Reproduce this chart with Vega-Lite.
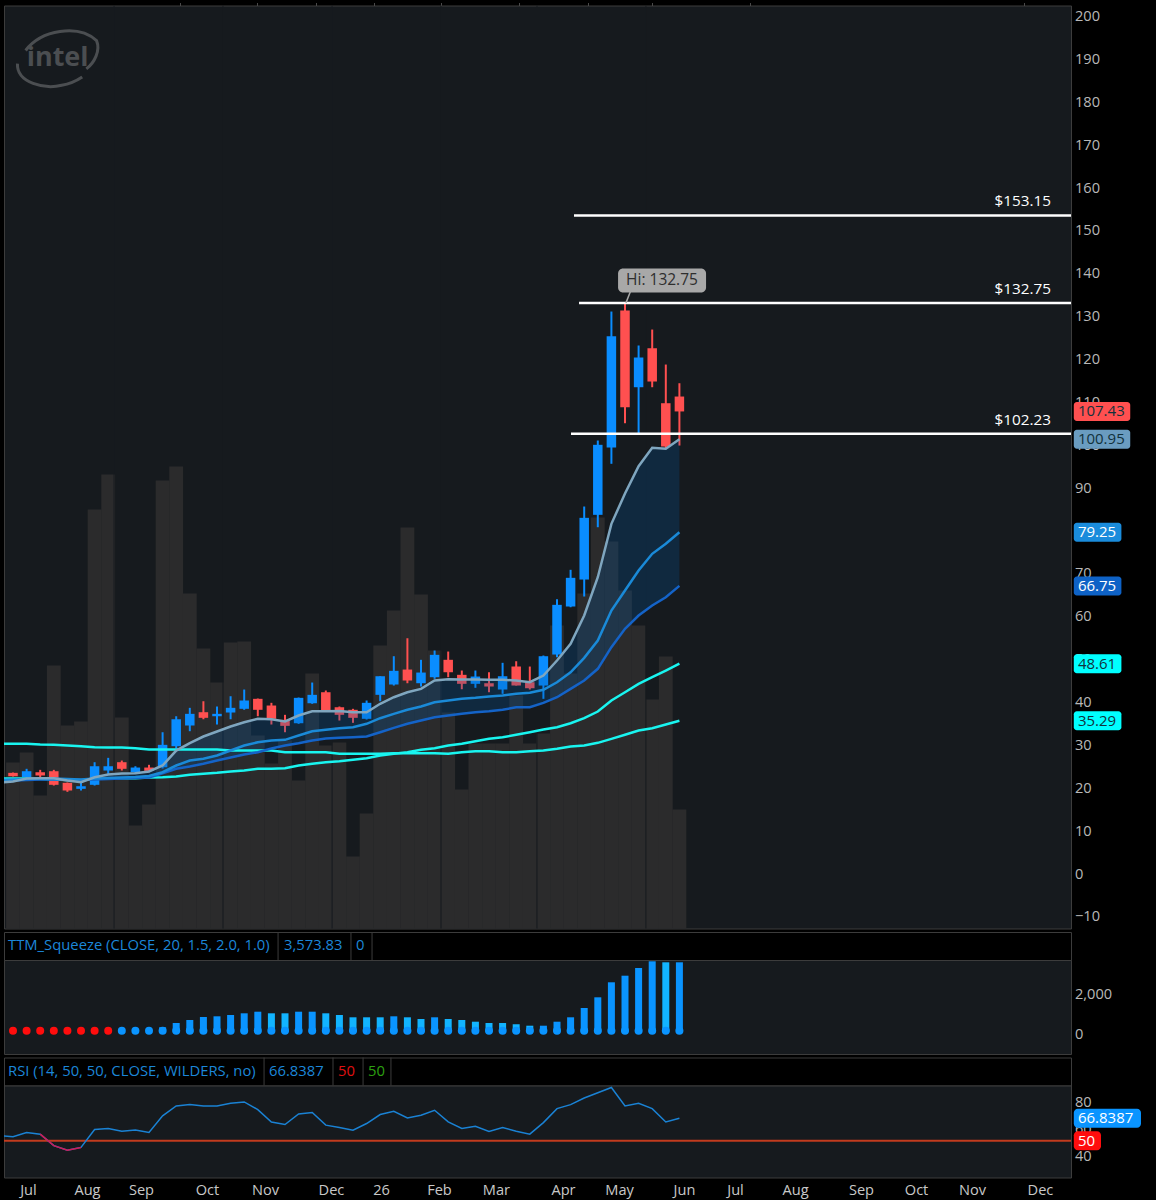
{
  "$schema": "https://vega.github.io/schema/vega-lite/v6.json",
  "background": "#000000",
  "padding": {"left": 2, "top": 1.5, "right": 17, "bottom": 2},
  "config": {
    "font": "Open Sans",
    "axis": {"grid": false, "domain": false, "ticks": false, "labelFont": "Open Sans", "labelFontSize": 14.6, "labelColor": "#b8b8b8", "labelOverlap": false, "labelBound": false, "labelFlush": false}
  },
  "datasets": {
    "bars": [
      {"week": -1, "ema8": 20.9, "ema21": 21.5, "ema34": 21.3, "ema50": 21.8, "ema200": 29.95, "rsi": 53.8},
      {"week": 0, "open": 23.15, "high": 23.22, "low": 22.29, "close": 22.36, "ema8": 21.13, "ema21": 21.59, "ema34": 21.36, "ema50": 21.83, "ema200": 29.92, "volume": 166, "squeeze": 0, "trend": "up", "rsi": 52.95},
      {"week": 1, "open": 22.13, "high": 24.09, "low": 22.13, "close": 23.53, "ema8": 21.83, "ema21": 21.71, "ema34": 21.47, "ema50": 21.83, "ema200": 29.92, "volume": 176, "squeeze": 0, "trend": "up", "rsi": 56.15},
      {"week": 2, "open": 23.29, "high": 23.85, "low": 22.13, "close": 22.53, "ema8": 21.89, "ema21": 21.83, "ema34": 21.59, "ema50": 21.71, "ema200": 29.75, "volume": 133, "squeeze": 0, "trend": "up", "rsi": 54.95, "rsi_low": 54.95},
      {"week": 3, "open": 23.53, "high": 23.85, "low": 20.19, "close": 20.36, "ema8": 21.89, "ema21": 21.83, "ema34": 21.59, "ema50": 21.59, "ema200": 29.68, "volume": 263, "squeeze": 0, "trend": "up", "rsi": 46.35, "rsi_low": 46.35},
      {"week": 4, "open": 20.82, "high": 20.89, "low": 18.72, "close": 19.03, "ema8": 21.36, "ema21": 21.71, "ema34": 21.59, "ema50": 21.47, "ema200": 29.52, "volume": 203, "squeeze": 0, "trend": "up", "rsi": 43.05, "rsi_low": 43.05},
      {"week": 5, "open": 19.42, "high": 20.96, "low": 19.03, "close": 20.03, "ema8": 20.96, "ema21": 21.59, "ema34": 21.47, "ema50": 21.36, "ema200": 29.36, "volume": 207, "squeeze": 0, "trend": "up", "rsi": 45.05, "rsi_low": 45.05},
      {"week": 6, "open": 20.36, "high": 25.63, "low": 20.19, "close": 24.69, "ema8": 22.13, "ema21": 21.83, "ema34": 21.59, "ema50": 21.83, "ema200": 29.12, "volume": 419, "squeeze": 0, "trend": "up", "rsi": 58.45},
      {"week": 7, "open": 23.69, "high": 26.65, "low": 22.76, "close": 24.69, "ema8": 22.76, "ema21": 21.94, "ema34": 21.71, "ema50": 21.89, "ema200": 29.05, "volume": 454, "squeeze": 0, "trend": "up", "rsi": 59.15},
      {"week": 8, "open": 25.63, "high": 26.02, "low": 23.69, "close": 24.09, "ema8": 22.99, "ema21": 22.06, "ema34": 21.83, "ema50": 21.89, "ema200": 29.05, "volume": 211, "squeeze": 0, "trend": "up", "rsi": 57.15},
      {"week": 9, "open": 23.29, "high": 24.69, "low": 22.99, "close": 24.39, "ema8": 23.06, "ema21": 22.17, "ema34": 21.94, "ema50": 21.89, "ema200": 28.89, "volume": 103, "squeeze": 0, "trend": "up", "rsi": 57.95},
      {"week": 10, "open": 24.39, "high": 25.02, "low": 23.29, "close": 23.62, "ema8": 23.46, "ema21": 22.41, "ema34": 22.06, "ema50": 22.06, "ema200": 28.59, "volume": 124, "squeeze": 0, "trend": "up", "rsi": 56.15},
      {"week": 11, "open": 24.46, "high": 32.62, "low": 24.16, "close": 29.68, "ema8": 24.86, "ema21": 23.29, "ema34": 23.06, "ema50": 22.13, "ema200": 28.59, "volume": 448, "squeeze": 241, "trend": "up", "rsi": 68.55},
      {"week": 12, "open": 29.36, "high": 36.35, "low": 28.82, "close": 35.65, "ema8": 28.35, "ema21": 24.86, "ema34": 24.09, "ema50": 22.29, "ema200": 28.59, "volume": 462, "squeeze": 462, "trend": "up", "rsi": 75.95},
      {"week": 13, "open": 34.19, "high": 38.31, "low": 32.86, "close": 36.91, "ema8": 30.06, "ema21": 26.02, "ema34": 24.62, "ema50": 22.69, "ema200": 28.59, "volume": 335, "squeeze": 615, "trend": "up", "rsi": 76.95},
      {"week": 14, "open": 37.29, "high": 39.85, "low": 35.65, "close": 35.98, "ema8": 31.62, "ema21": 26.42, "ema34": 25.25, "ema50": 22.92, "ema200": 28.59, "volume": 280, "squeeze": 769, "trend": "up", "rsi": 75.95},
      {"week": 15, "open": 36.35, "high": 38.62, "low": 34.42, "close": 36.91, "ema8": 32.79, "ema21": 27.19, "ema34": 26.02, "ema50": 23.15, "ema200": 28.59, "volume": 246, "squeeze": 805, "trend": "up", "rsi": 75.95},
      {"week": 16, "open": 37.22, "high": 41.02, "low": 35.65, "close": 38.31, "ema8": 33.95, "ema21": 28.35, "ema34": 26.72, "ema50": 23.46, "ema200": 28.35, "volume": 286, "squeeze": 872, "trend": "up", "rsi": 77.95},
      {"week": 17, "open": 38.08, "high": 42.58, "low": 37.85, "close": 40.02, "ema8": 34.95, "ema21": 29.52, "ema34": 27.42, "ema50": 23.69, "ema200": 28.35, "volume": 287, "squeeze": 959, "trend": "up", "rsi": 78.95},
      {"week": 18, "open": 40.41, "high": 40.48, "low": 36.35, "close": 37.85, "ema8": 35.75, "ema21": 30.29, "ema34": 27.96, "ema50": 24.09, "ema200": 28.35, "volume": 193, "squeeze": 1041, "trend": "up", "rsi": 73.25},
      {"week": 19, "open": 38.85, "high": 39.48, "low": 34.42, "close": 35.75, "ema8": 35.65, "ema21": 30.69, "ema34": 28.82, "ema50": 24.09, "ema200": 28.35, "volume": 165, "squeeze": 959, "trend": "down", "rsi": 64.05},
      {"week": 20, "open": 35.51, "high": 36.68, "low": 32.62, "close": 34.11, "ema8": 35.12, "ema21": 30.85, "ema34": 29.52, "ema50": 24.23, "ema200": 27.96, "volume": 188, "squeeze": 959, "trend": "down", "rsi": 62.15},
      {"week": 21, "open": 34.72, "high": 40.71, "low": 34.58, "close": 40.64, "ema8": 36.52, "ema21": 31.85, "ema34": 30.06, "ema50": 24.86, "ema200": 27.96, "volume": 148, "squeeze": 1041, "trend": "up", "rsi": 70.05},
      {"week": 22, "open": 39.38, "high": 44.21, "low": 39.25, "close": 41.34, "ema8": 37.52, "ema21": 32.86, "ema34": 30.69, "ema50": 25.25, "ema200": 27.96, "volume": 255, "squeeze": 1041, "trend": "up", "rsi": 71.05},
      {"week": 23, "open": 41.95, "high": 42.35, "low": 37.45, "close": 37.52, "ema8": 37.52, "ema21": 33.18, "ema34": 31.15, "ema50": 25.63, "ema200": 27.96, "volume": 183, "squeeze": 959, "trend": "down", "rsi": 61.65},
      {"week": 24, "open": 38.45, "high": 38.62, "low": 35.35, "close": 36.68, "ema8": 37.57, "ema21": 33.56, "ema34": 31.32, "ema50": 25.86, "ema200": 27.58, "volume": 186, "squeeze": 872, "trend": "down", "rsi": 59.85},
      {"week": 25, "open": 37.85, "high": 38.08, "low": 34.81, "close": 35.98, "ema8": 37.29, "ema21": 33.79, "ema34": 31.46, "ema50": 26.19, "ema200": 27.58, "volume": 72, "squeeze": 754, "trend": "down", "rsi": 57.95},
      {"week": 26, "open": 35.75, "high": 40.02, "low": 35.58, "close": 39.48, "ema8": 37.29, "ema21": 34.58, "ema34": 31.62, "ema50": 26.56, "ema200": 27.58, "volume": 115, "squeeze": 754, "trend": "down", "rsi": 62.85},
      {"week": 27, "open": 41.34, "high": 45.68, "low": 39.85, "close": 45.68, "ema8": 39.25, "ema21": 35.89, "ema34": 32.62, "ema50": 27.19, "ema200": 27.58, "volume": 283, "squeeze": 754, "trend": "down", "rsi": 69.55},
      {"week": 28, "open": 43.75, "high": 50.35, "low": 43.51, "close": 46.94, "ema8": 40.78, "ema21": 36.91, "ema34": 33.65, "ema50": 27.58, "ema200": 27.73, "volume": 318, "squeeze": 805, "trend": "up", "rsi": 71.95},
      {"week": 29, "open": 47.24, "high": 54.54, "low": 44.05, "close": 44.68, "ema8": 41.95, "ema21": 37.85, "ema34": 34.58, "ema50": 27.96, "ema200": 27.73, "volume": 401, "squeeze": 754, "trend": "down", "rsi": 67.05},
      {"week": 30, "open": 44.05, "high": 49.51, "low": 43.28, "close": 46.54, "ema8": 42.74, "ema21": 38.62, "ema34": 35.35, "ema50": 28.52, "ema200": 27.73, "volume": 334, "squeeze": 667, "trend": "down", "rsi": 69.05},
      {"week": 31, "open": 45.45, "high": 51.68, "low": 45.08, "close": 50.67, "ema8": 44.68, "ema21": 39.62, "ema34": 36.12, "ema50": 28.89, "ema200": 27.73, "volume": 278, "squeeze": 754, "trend": "up", "rsi": 72.75},
      {"week": 32, "open": 49.51, "high": 51.44, "low": 45.45, "close": 46.61, "ema8": 44.98, "ema21": 40.02, "ema34": 36.52, "ema50": 29.52, "ema200": 27.58, "volume": 216, "squeeze": 667, "trend": "down", "rsi": 64.05},
      {"week": 33, "open": 46.01, "high": 47.01, "low": 42.65, "close": 43.91, "ema8": 44.91, "ema21": 40.41, "ema34": 36.91, "ema50": 29.92, "ema200": 27.96, "volume": 139, "squeeze": 615, "trend": "down", "rsi": 59.15},
      {"week": 34, "open": 43.91, "high": 47.01, "low": 42.98, "close": 45.61, "ema8": 44.91, "ema21": 40.64, "ema34": 37.29, "ema50": 30.52, "ema200": 28.19, "volume": 185, "squeeze": 528, "trend": "down", "rsi": 60.85},
      {"week": 35, "open": 44.05, "high": 46.61, "low": 41.95, "close": 43.28, "ema8": 44.84, "ema21": 40.95, "ema34": 37.52, "ema50": 31.08, "ema200": 28.19, "volume": 185, "squeeze": 462, "trend": "down", "rsi": 56.95},
      {"week": 36, "open": 42.58, "high": 48.81, "low": 41.58, "close": 45.68, "ema8": 44.84, "ema21": 41.18, "ema34": 37.85, "ema50": 31.46, "ema200": 27.96, "volume": 185, "squeeze": 462, "trend": "down", "rsi": 59.85},
      {"week": 37, "open": 47.94, "high": 49.18, "low": 43.51, "close": 43.51, "ema8": 44.68, "ema21": 41.58, "ema34": 38.45, "ema50": 32.02, "ema200": 27.96, "volume": 233, "squeeze": 395, "trend": "down", "rsi": 57.15},
      {"week": 38, "open": 44.28, "high": 47.94, "low": 42.58, "close": 42.88, "ema8": 44.28, "ema21": 41.81, "ema34": 38.45, "ema50": 32.62, "ema200": 28.19, "volume": 185, "squeeze": 323, "trend": "down", "rsi": 54.95},
      {"week": 39, "open": 43.51, "high": 50.51, "low": 40.41, "close": 50.35, "ema8": 45.85, "ema21": 42.51, "ema34": 39.48, "ema50": 33.25, "ema200": 28.35, "volume": 195, "squeeze": 323, "trend": "up", "rsi": 63.55},
      {"week": 40, "open": 50.74, "high": 63.64, "low": 50.11, "close": 62.33, "ema8": 49.34, "ema21": 44.28, "ema34": 40.78, "ema50": 33.79, "ema200": 28.75, "volume": 303, "squeeze": 528, "trend": "up", "rsi": 73.95},
      {"week": 41, "open": 61.94, "high": 70.5, "low": 61.77, "close": 68.63, "ema8": 53.24, "ema21": 46.61, "ema34": 42.74, "ema50": 34.72, "ema200": 29.29, "volume": 255, "squeeze": 754, "trend": "up", "rsi": 76.95},
      {"week": 42, "open": 68.23, "high": 85.26, "low": 64.27, "close": 82.62, "ema8": 59.84, "ema21": 49.97, "ema34": 44.68, "ema50": 35.89, "ema200": 29.52, "volume": 335, "squeeze": 1231, "trend": "up", "rsi": 81.85},
      {"week": 43, "open": 83.32, "high": 100.65, "low": 80.43, "close": 99.65, "ema8": 68.77, "ema21": 54.01, "ema34": 47.41, "ema50": 37.45, "ema200": 30.15, "volume": 411, "squeeze": 1779, "trend": "up", "rsi": 85.85},
      {"week": 44, "open": 99.02, "high": 130.73, "low": 95.22, "close": 124.97, "ema8": 81.22, "ema21": 61.0, "ema34": 52.45, "ema50": 40.02, "ema200": 31.08, "volume": 387, "squeeze": 2549, "trend": "up", "rsi": 89.75},
      {"week": 45, "open": 130.97, "high": 132.75, "low": 104.68, "close": 108.42, "ema8": 88.29, "ema21": 65.67, "ema34": 56.74, "ema50": 41.95, "ema200": 32.02, "volume": 338, "squeeze": 2887, "trend": "up", "rsi": 75.95},
      {"week": 46, "open": 113.08, "high": 122.81, "low": 102.28, "close": 120.01, "ema8": 94.66, "ema21": 70.33, "ema34": 59.84, "ema50": 43.91, "ema200": 33.02, "volume": 303, "squeeze": 3282, "trend": "up", "rsi": 77.95},
      {"week": 47, "open": 122.17, "high": 126.53, "low": 113.08, "close": 114.41, "ema8": 98.95, "ema21": 74.23, "ema34": 62.17, "ema50": 45.45, "ema200": 33.56, "volume": 229, "squeeze": 3625, "trend": "up", "rsi": 73.95},
      {"week": 48, "open": 109.35, "high": 118.37, "low": 98.71, "close": 99.25, "ema8": 98.71, "ema21": 76.56, "ema34": 64.11, "ema50": 47.01, "ema200": 34.42, "volume": 272, "squeeze": 3574, "trend": "down", "rsi": 64.05},
      {"week": 49, "open": 110.91, "high": 114.01, "low": 99.48, "close": 107.43, "ema8": 100.95, "ema21": 79.25, "ema34": 66.75, "ema50": 48.61, "ema200": 35.29, "volume": 119, "squeeze": 3574, "trend": "up", "rsi": 66.84}
    ],
    "levels": [
      {"level": 153.15, "label": "$153.15", "start": 41.25, "end": 77.794, "week": 76.32},
      {"level": 132.75, "label": "$132.75", "start": 41.62, "end": 77.794, "week": 76.32},
      {"level": 102.23, "label": "$102.23", "start": 41.03, "end": 77.794, "week": 76.32}
    ],
    "tags": [
      {"label": "107.43", "price": 107.43, "series": "close", "from": 78.0, "to": 82.15, "week": 78.3},
      {"label": "100.95", "price": 100.95, "series": "ema8", "from": 78.0, "to": 82.15, "week": 78.3},
      {"label": "79.25", "price": 79.25, "series": "ema21", "from": 78.0, "to": 81.5, "week": 78.3},
      {"label": "66.75", "price": 66.75, "series": "ema34", "from": 78.0, "to": 81.5, "week": 78.3},
      {"label": "48.61", "price": 48.61, "series": "ema50", "from": 78.0, "to": 81.5, "week": 78.3},
      {"label": "35.29", "price": 35.29, "series": "ema200", "from": 78.0, "to": 81.5, "week": 78.3}
    ],
    "highStem": [
      {"week": 45.4, "price": 135.4},
      {"week": 45.07, "price": 132.75}
    ],
    "highBubble": [
      {"label": "Hi: 132.75", "price": 137.97, "from": 44.49, "to": 50.96, "week": 47.72}
    ],
    "logo": [
      {"label": "intel", "price": 189.7, "week": 3.28}
    ],
    "rsiTags": [
      {"label": "66.8387", "rsi": 66.84, "series": "rsi", "from": 78.0, "to": 82.94, "week": 78.3},
      {"label": "50", "rsi": 50, "series": "level", "from": 78.0, "to": 80.0, "week": 78.3}
    ],
    "separators": [{"week": 7.43}, {"week": 15.44}, {"week": 23.46}, {"week": 31.47}, {"week": 38.53}, {"week": 46.54}]
  },
  "spacing": 1.5,
  "resolve": {"scale": {"color": "independent"}},
  "vconcat": [
    {
      "width": 1067,
      "height": 923,
      "view": {"fill": "#161a1e", "stroke": "#3c3c3c"},
      "encoding": {
        "x": {
          "field": "week",
          "type": "quantitative",
          "title": null,
          "scale": {"domain": [-0.662, 77.794], "nice": false, "zero": false, "padding": 0},
          "axis": {"orient": "top", "values": [12.28, 17.94, 22.28, 26.54, 31.47, 37.2, 42.28, 46.99, 54.19, 74.34], "labels": false, "ticks": true, "tickSize": 3, "tickColor": "#4a4a4a"}
        }
      },
      "layer": [
        {
          "data": {"name": "bars"},
          "mark": {"type": "bar", "size": 13.8, "orient": "vertical", "color": "#2b2b2c"},
          "encoding": {
            "y": {"field": "volume", "type": "quantitative", "stack": null, "axis": null, "scale": {"domain": [0, 923], "nice": false}}
          }
        },
        {
          "layer": [
            {
              "data": {"name": "separators"},
              "mark": {"type": "rule", "color": "#171b1f", "strokeWidth": 1},
              "encoding": {}
            },
            {
              "data": {"name": "bars"},
              "mark": {"type": "rule", "strokeWidth": 2},
              "encoding": {
                "y": {
                  "field": "low",
                  "type": "quantitative",
                  "title": null,
                  "scale": {"domain": [-13.15, 202.1], "nice": false, "zero": false, "padding": 0},
                  "axis": {"orient": "right", "values": [-10, 0, 10, 20, 30, 40, 50, 60, 70, 80, 90, 100, 110, 120, 130, 140, 150, 160, 170, 180, 190, 200], "labelPadding": 3.5, "labelOffset": 2}
                },
                "y2": {"field": "high"},
                "color": {"condition": {"test": "datum.close >= datum.open", "value": "#0a8dff"}, "value": "#ff5050"}
              }
            },
            {
              "data": {"name": "bars"},
              "mark": {"type": "bar", "size": 9.5, "orient": "vertical"},
              "encoding": {
                "y": {"field": "open", "type": "quantitative", "title": null},
                "y2": {"field": "close"},
                "color": {"condition": {"test": "datum.close >= datum.open", "value": "#0a8dff"}, "value": "#ff5050"}
              }
            },
            {
              "data": {"name": "bars"},
              "mark": {"type": "area", "color": "#0056a2", "opacity": 0.25, "clip": true},
              "encoding": {
                "y": {"field": "ema8", "type": "quantitative", "title": null},
                "y2": {"field": "ema34"}
              }
            },
            {
              "data": {"name": "bars"},
              "mark": {"type": "line", "color": "#19f5f0", "strokeWidth": 2.5, "clip": true},
              "encoding": {"y": {"field": "ema200", "type": "quantitative", "title": null}}
            },
            {
              "data": {"name": "bars"},
              "mark": {"type": "line", "color": "#19f5f0", "strokeWidth": 2.5, "clip": true},
              "encoding": {"y": {"field": "ema50", "type": "quantitative", "title": null}}
            },
            {
              "data": {"name": "bars"},
              "mark": {"type": "line", "color": "#1463c8", "strokeWidth": 2.5, "clip": true},
              "encoding": {"y": {"field": "ema34", "type": "quantitative", "title": null}}
            },
            {
              "data": {"name": "bars"},
              "mark": {"type": "line", "color": "#1a8ad8", "strokeWidth": 2.5, "clip": true},
              "encoding": {"y": {"field": "ema21", "type": "quantitative", "title": null}}
            },
            {
              "data": {"name": "bars"},
              "mark": {"type": "line", "color": "#7fa6bf", "strokeWidth": 2.5, "clip": true},
              "encoding": {"y": {"field": "ema8", "type": "quantitative", "title": null}}
            },
            {
              "data": {"name": "levels"},
              "mark": {"type": "rule", "color": "#ffffff", "strokeWidth": 2.5},
              "encoding": {
                "x": {"field": "start", "type": "quantitative", "title": null},
                "x2": {"field": "end"},
                "y": {"field": "level", "type": "quantitative", "title": null}
              }
            },
            {
              "data": {"name": "levels"},
              "mark": {"type": "text", "align": "right", "baseline": "middle", "dy": -14, "color": "#ffffff", "fontSize": 15.3},
              "encoding": {
                "y": {"field": "level", "type": "quantitative", "title": null},
                "text": {"field": "label"}
              }
            },
            {
              "data": {"name": "highStem"},
              "mark": {"type": "line", "color": "#a8a8a8", "strokeWidth": 1.5},
              "encoding": {"y": {"field": "price", "type": "quantitative", "title": null}}
            },
            {
              "data": {"name": "highBubble"},
              "mark": {"type": "bar", "size": 24, "orient": "horizontal", "cornerRadius": 5, "color": "#a8a8a8"},
              "encoding": {
                "x": {"field": "from", "type": "quantitative", "title": null},
                "x2": {"field": "to"},
                "y": {"field": "price", "type": "quantitative", "title": null}
              }
            },
            {
              "data": {"name": "highBubble"},
              "mark": {"type": "text", "align": "center", "baseline": "middle", "color": "#2e2e2e", "fontSize": 15.5},
              "encoding": {
                "y": {"field": "price", "type": "quantitative", "title": null},
                "text": {"field": "label"}
              }
            },
            {
              "data": {"name": "logo"},
              "mark": {"type": "text", "align": "center", "baseline": "middle", "color": "#4b4e51", "fontSize": 27, "fontWeight": "bold", "dy": -1},
              "encoding": {
                "y": {"field": "price", "type": "quantitative", "title": null},
                "text": {"field": "label"}
              }
            },
            {
              "data": {"name": "logo"},
              "mark": {"type": "point", "filled": false, "stroke": "#4b4e51", "strokeWidth": 3, "opacity": 1, "shape": "M -0.78 -0.2 C -0.4 -0.7 0.5 -0.85 0.95 -0.44 C 1.05 -0.2 0.9 0.1 0.7 0.25 M -0.98 0.12 C -1 0.6 -0.3 0.75 0.1 0.65 C 0.3 0.62 0.45 0.55 0.6 0.45", "size": 6724},
              "encoding": {
                "y": {"field": "price", "type": "quantitative", "title": null}
              }
            },
            {
              "data": {"name": "tags"},
              "mark": {"type": "bar", "size": 19, "orient": "horizontal", "cornerRadius": 3, "clip": false},
              "encoding": {
                "x": {"field": "from", "type": "quantitative", "title": null},
                "x2": {"field": "to"},
                "y": {"field": "price", "type": "quantitative", "title": null},
                "color": {"field": "series", "type": "nominal", "legend": null, "scale": {"domain": ["close", "ema8", "ema21", "ema34", "ema50", "ema200"], "range": ["#ff5050", "#6a9cc0", "#1a8cdc", "#0e62c6", "#00ffff", "#00ffff"]}}
              }
            },
            {
              "data": {"name": "tags"},
              "mark": {"type": "text", "align": "left", "baseline": "middle", "fontSize": 15, "clip": false},
              "encoding": {
                "y": {"field": "price", "type": "quantitative", "title": null},
                "text": {"field": "label"},
                "fill": {"condition": {"test": "datum.series == 'ema21' || datum.series == 'ema34'", "value": "#ffffff"}, "value": "#12323c"}
              }
            }
          ]
        }
      ],
      "resolve": {"scale": {"y": "independent"}}
    },
    {
      "bounds": "flush",
      "spacing": 0,
      "resolve": {"scale": {"color": "independent"}},
      "vconcat": [
        {
          "width": 1067,
          "height": 28,
          "view": {"fill": "#000000", "stroke": "#3c3c3c"},
          "encoding": {
            "x": {"field": "week", "type": "quantitative", "axis": null, "scale": {"domain": [-0.662, 77.794], "nice": false, "zero": false, "padding": 0}}
          },
          "layer": [
            {
              "data": {"values": [{"week": 19.49}, {"week": 24.85}, {"week": 26.4}]},
              "mark": {"type": "rule", "color": "#3c3c3c"},
              "encoding": {}
            },
            {
              "data": {"values": [
                {"week": -0.368, "text": "TTM_Squeeze (CLOSE, 20, 1.5, 2.0, 1.0)"},
                {"week": 19.93, "text": "3,573.83"},
                {"week": 25.22, "text": "0"}
              ]},
              "mark": {"type": "text", "align": "left", "baseline": "middle", "color": "#1c87d9", "fontSize": 14.8},
              "encoding": {"text": {"field": "text"}}
            }
          ]
        },
        {
          "width": 1067,
          "height": 94,
          "view": {"fill": "#161a1e", "stroke": "#3c3c3c"},
          "data": {"name": "bars"},
          "transform": [{"filter": "datum.week >= 0"}],
          "encoding": {
            "x": {"field": "week", "type": "quantitative", "axis": null, "scale": {"domain": [-0.662, 77.794], "nice": false, "zero": false, "padding": 0}}
          },
          "layer": [
            {
              "mark": {"type": "bar", "size": 7, "orient": "vertical", "clip": true},
              "encoding": {
                "y": {
                  "field": "squeeze",
                  "type": "quantitative",
                  "stack": null,
                  "title": null,
                  "scale": {"domain": [-1128, 3692], "nice": false, "zero": false},
                  "axis": {"orient": "right", "values": [0, 2000], "labelExpr": "format(datum.value, ',')", "labelPadding": 3.5, "labelOffset": 2}
                },
                "color": {"field": "trend", "type": "nominal", "legend": null, "scale": {"domain": ["up", "down"], "range": ["#0a94ff", "#12b4ff"]}}
              }
            },
            {
              "mark": {"type": "point", "filled": true, "size": 64, "opacity": 1, "shape": "circle"},
              "encoding": {
                "y": {"datum": 60, "type": "quantitative", "title": null},
                "fill": {"condition": {"test": "datum.week < 8", "value": "#ff0d0d"}, "value": "#0a94ff"}
              }
            }
          ]
        }
      ]
    },
    {
      "bounds": "flush",
      "spacing": 0,
      "resolve": {"scale": {"color": "independent"}},
      "vconcat": [
        {
          "width": 1067,
          "height": 28,
          "view": {"fill": "#000000", "stroke": "#3c3c3c"},
          "encoding": {
            "x": {"field": "week", "type": "quantitative", "axis": null, "scale": {"domain": [-0.662, 77.794], "nice": false, "zero": false, "padding": 0}}
          },
          "layer": [
            {
              "data": {"values": [{"week": 18.46}, {"week": 23.53}, {"week": 25.74}, {"week": 27.79}]},
              "mark": {"type": "rule", "color": "#3c3c3c"},
              "encoding": {}
            },
            {
              "data": {"values": [
                {"week": -0.368, "text": "RSI (14, 50, 50, CLOSE, WILDERS, no)", "part": "study"},
                {"week": 18.82, "text": "66.8387", "part": "study"},
                {"week": 23.9, "text": "50", "part": "overbought"},
                {"week": 26.1, "text": "50", "part": "oversold"}
              ]},
              "mark": {"type": "text", "align": "left", "baseline": "middle", "fontSize": 14.8},
              "encoding": {
                "text": {"field": "text"},
                "color": {"field": "part", "type": "nominal", "legend": null, "scale": {"domain": ["study", "overbought", "oversold"], "range": ["#1c87d9", "#e01010", "#2ca010"]}}
              }
            }
          ]
        },
        {
          "width": 1067,
          "height": 92,
          "view": {"fill": "#161a1e", "stroke": "#3c3c3c"},
          "layer": [
            {
              "data": {"values": [{"level": 50}]},
              "mark": {"type": "rule", "color": "#c23b1e", "strokeWidth": 2},
              "encoding": {
                "y": {
                  "field": "level",
                  "type": "quantitative",
                  "title": null,
                  "scale": {"domain": [22.65, 91.2], "nice": false, "zero": false, "padding": 0},
                  "axis": {"orient": "right", "values": [40, 60, 80], "labelPadding": 3.5, "labelOffset": 2}
                }
              }
            },
            {
              "data": {"name": "bars"},
              "mark": {"type": "line", "color": "#1a82d4", "strokeWidth": 1.5, "clip": true},
              "encoding": {
                "x": {
                  "field": "week",
                  "type": "quantitative",
                  "title": null,
                  "scale": {"domain": [-0.662, 77.794], "nice": false, "zero": false, "padding": 0},
                  "axis": {
                    "orient": "bottom",
                    "values": [1.1, 5.44, 9.41, 14.26, 18.53, 23.38, 27.06, 31.32, 35.51, 40.44, 44.56, 49.34, 53.09, 57.5, 62.35, 66.4, 70.51, 75.51],
                    "labelExpr": "{'1.1':'Jul','5.44':'Aug','9.41':'Sep','14.26':'Oct','18.53':'Nov','23.38':'Dec','27.06':'26','31.32':'Feb','35.51':'Mar','40.44':'Apr','44.56':'May','49.34':'Jun','53.09':'Jul','57.5':'Aug','62.35':'Sep','66.4':'Oct','70.51':'Nov','75.51':'Dec'}[datum.value]",
                    "labelPadding": 5,
                    "labelColor": "#c8c8c8"
                  }
                },
                "y": {"field": "rsi", "type": "quantitative", "title": null}
              }
            },
            {
              "data": {"name": "bars"},
              "mark": {"type": "line", "color": "#d11a55", "strokeWidth": 1.5, "clip": true},
              "encoding": {
                "x": {"field": "week", "type": "quantitative", "title": null},
                "y": {"field": "rsi_low", "type": "quantitative", "title": null}
              }
            },
            {
              "data": {"name": "rsiTags"},
              "mark": {"type": "bar", "size": 19, "orient": "horizontal", "cornerRadius": 4, "clip": false},
              "encoding": {
                "x": {"field": "from", "type": "quantitative", "title": null},
                "x2": {"field": "to"},
                "y": {"field": "rsi", "type": "quantitative", "title": null},
                "color": {"field": "series", "type": "nominal", "legend": null, "scale": {"domain": ["rsi", "level"], "range": ["#0a94ff", "#ff0d0d"]}}
              }
            },
            {
              "data": {"name": "rsiTags"},
              "mark": {"type": "text", "align": "left", "baseline": "middle", "color": "#ffffff", "fontSize": 15, "clip": false},
              "encoding": {
                "x": {"field": "week", "type": "quantitative", "title": null},
                "y": {"field": "rsi", "type": "quantitative", "title": null},
                "text": {"field": "label"}
              }
            }
          ]
        }
      ]
    }
  ]
}
